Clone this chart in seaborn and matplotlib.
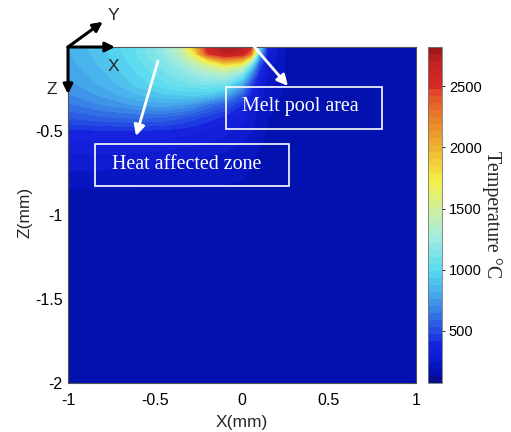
import numpy as np
import matplotlib
matplotlib.use("Agg")
import matplotlib.pyplot as plt
from matplotlib.colors import LinearSegmentedColormap
from matplotlib.patches import Rectangle
import seaborn as sns

# ---------------- data ----------------
x_mm = [-1.0, -0.8, -0.6, -0.45, -0.35, -0.28, -0.2, -0.1, 0.0, 0.05, 0.1, 0.15, 0.25, 0.5, 1.0]
z_mm = [0.0, -0.04, -0.08, -0.12, -0.16, -0.22, -0.28, -0.34, -0.42, -0.5, -0.65, -0.85, -1.2, -2.0]

t_z000 = [820, 920, 1060, 1220, 1450, 1900, 2580, 2760, 2720, 2550, 1050, 330, 185, 180, 180]
t_z004 = [810, 910, 1050, 1200, 1400, 1700, 2450, 2700, 2650, 2300, 850, 310, 185, 180, 180]
t_z008 = [800, 900, 1030, 1160, 1300, 1480, 1750, 2150, 2000, 1450, 620, 290, 184, 180, 180]
t_z012 = [785, 880, 1010, 1120, 1220, 1320, 1450, 1600, 1450, 1000, 470, 270, 183, 180, 180]
t_z016 = [770, 860, 990, 1090, 1160, 1220, 1290, 1350, 1150, 750, 380, 250, 182, 180, 180]
t_z022 = [740, 830, 950, 1030, 1070, 1100, 1120, 1100, 820, 500, 310, 230, 182, 180, 180]
t_z028 = [700, 780, 880, 930, 950, 960, 950, 850, 580, 380, 270, 215, 181, 180, 180]
t_z034 = [640, 710, 780, 800, 780, 740, 650, 560, 420, 320, 240, 200, 181, 180, 180]
t_z042 = [540, 580, 600, 580, 540, 500, 450, 400, 330, 280, 215, 190, 180, 180, 180]
t_z050 = [400, 410, 410, 400, 385, 370, 350, 320, 280, 250, 200, 185, 180, 180, 180]
t_z065 = [290, 290, 285, 275, 265, 255, 245, 230, 210, 195, 185, 182, 180, 180, 180]
t_z085 = [185, 185, 184, 184, 183, 183, 182, 182, 181, 181, 180, 180, 180, 180, 180]
t_z120 = [178, 178, 178, 178, 178, 178, 178, 178, 178, 178, 178, 178, 178, 178, 178]
t_z200 = [175, 175, 175, 175, 175, 175, 175, 175, 175, 175, 175, 175, 175, 175, 175]

x_ticks = [-1, -0.5, 0, 0.5, 1]
x_ticklabels = ["-1", "-0.5", "0", "0.5", "1"]
z_ticks = [-2, -1.5, -1, -0.5]
z_ticklabels = ["-2", "-1.5", "-1", "-0.5"]
cbar_ticks = [500, 1000, 1500, 2000, 2500]
t_min, t_max = 75, 2820

# ---------------- style ----------------
sns.set_theme(style="white")
plt.rcParams["font.family"] = ["Liberation Sans", "DejaVu Sans"]
plt.rcParams["axes.unicode_minus"] = False

cmap_anchors = [
    (0.000, (10, 12, 140)), (0.025, (2, 18, 180)), (0.050, (10, 24, 200)),
    (0.080, (18, 30, 215)), (0.110, (22, 35, 222)), (0.130, (30, 60, 225)),
    (0.190, (50, 110, 228)), (0.260, (70, 170, 235)), (0.336, (90, 220, 240)),
    (0.426, (160, 235, 225)), (0.515, (205, 240, 160)), (0.604, (245, 240, 70)),
    (0.693, (238, 185, 50)), (0.798, (232, 125, 42)), (0.870, (228, 75, 40)),
    (0.887, (215, 42, 40)), (0.960, (195, 35, 35)), (1.000, (160, 25, 25)),
]
cmap = LinearSegmentedColormap.from_list(
    "temp", [(p, tuple(c / 255 for c in rgb)) for p, rgb in cmap_anchors], N=48)

temps = np.array([t_z000, t_z004, t_z008, t_z012, t_z016, t_z022, t_z028,
                  t_z034, t_z042, t_z050, t_z065, t_z085, t_z120, t_z200], dtype=float)
X, Z = np.meshgrid(x_mm, z_mm)

fig = plt.figure(figsize=(5.11, 4.32), dpi=100)
ax = fig.add_axes([68 / 511, 1 - 383 / 432, 348 / 511, 336 / 432])
cax = fig.add_axes([428 / 511, 1 - 383 / 432, 14 / 511, 336 / 432])

levels = np.linspace(t_min, t_max, 49)
cs = ax.contourf(X, Z, temps, levels=levels, cmap=cmap, vmin=t_min, vmax=t_max)
ax.set_xlim(-1, 1)
ax.set_ylim(-2, 0)
ax.set_xticks(x_ticks)
ax.set_xticklabels(x_ticklabels)
ax.set_yticks(z_ticks)
ax.set_yticklabels(z_ticklabels)
ax.tick_params(axis="x", length=0, pad=7, labelsize=11.5, colors="black")
ax.tick_params(axis="y", length=0, pad=4, labelsize=11.5, colors="black")
for sp in ax.spines.values():
    sp.set_color("#555555")
    sp.set_linewidth(0.8)

cb = fig.colorbar(cs, cax=cax, ticks=cbar_ticks)
cb.ax.tick_params(length=2, width=0.6, pad=3, labelsize=10.5, colors="black")
cb.outline.set_edgecolor("#777777")
cb.outline.set_linewidth(0.6)

fig.text(242 / 511, 1 - 422 / 432, "X(mm)", ha="center", va="center", fontsize=12.5)
fig.text(25 / 511, 1 - 212 / 432, "Z(mm)", ha="center", va="center", rotation=90, fontsize=12.5)
fig.text(492 / 511, 1 - 215 / 432, "Temperature °C", ha="center", va="center", rotation=-90,
         fontsize=14.4, family=["Liberation Serif", "DejaVu Serif"])

# coordinate system arrows
origin = (-1.0, 0.0)
for tip in [(-0.73, 0.0), (-1.0, -0.28), (-0.80, 0.15)]:
    ax.annotate("", xy=tip, xytext=origin, annotation_clip=False,
                arrowprops=dict(arrowstyle="-|>", color="black", lw=2.2,
                                mutation_scale=14, shrinkA=0, shrinkB=0))
ax.text(-0.741, -0.118, "X", ha="center", va="center", fontsize=12.5, clip_on=False)
ax.text(-0.741, 0.185, "Y", ha="center", va="center", fontsize=12.5, clip_on=False)
ax.text(-1.092, -0.25, "Z", ha="center", va="center", fontsize=12.5, clip_on=False)

# annotations
serif = ["Liberation Serif", "DejaVu Serif"]
ax.annotate("", xy=(-0.609, -0.530), xytext=(-0.483, -0.083),
            arrowprops=dict(arrowstyle="-|>", color="white", lw=2,
                            mutation_scale=16, shrinkA=0, shrinkB=0))
ax.annotate("", xy=(0.264, -0.232), xytext=(0.063, 0.01), annotation_clip=False,
            arrowprops=dict(arrowstyle="-|>", color="white", lw=2,
                            mutation_scale=16, shrinkA=0, shrinkB=0))
ax.add_patch(Rectangle((-0.092, -0.488), 0.897, 0.25, fill=False, ec="white", lw=1.2))
ax.add_patch(Rectangle((-0.845, -0.827), 1.115, 0.25, fill=False, ec="white", lw=1.2))
ax.text(0.336, -0.357, "Melt pool area", ha="center", va="center", color="white",
        fontsize=14.4, family=serif)
ax.text(-0.319, -0.702, "Heat affected zone", ha="center", va="center", color="white",
        fontsize=14.4, family=serif)

fig.savefig("out.png", dpi=100, facecolor="white")
